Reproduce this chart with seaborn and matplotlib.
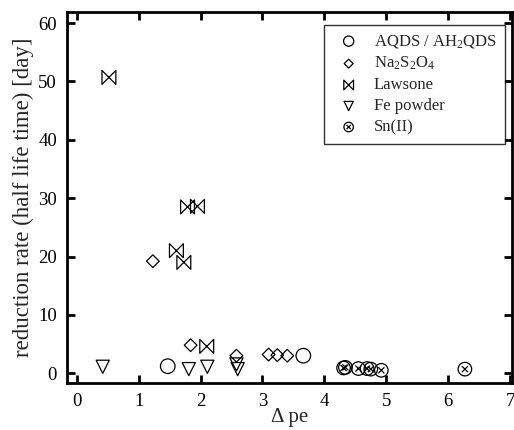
'''scatter of reduction rate vs delta pe'''
import numpy as np
import pandas as pd
import seaborn as sns
import matplotlib.pyplot as plt
from matplotlib.path import Path

# data
aqds_x = [1.47, 3.66]
aqds_y = [1.2, 3.0]
na_x = [1.23, 1.84, 2.58, 3.10, 3.24, 3.40]
na_y = [19.2, 4.8, 3.0, 3.2, 3.1, 3.0]
law_x = [0.52, 1.79, 1.95, 1.61, 1.73, 2.10]
law_y = [50.7, 28.5, 28.6, 21.0, 19.0, 4.6]
fe_x = [0.42, 1.81, 2.11, 2.58, 2.60]
fe_y = [1.1, 0.7, 1.1, 1.5, 0.7]
sn_x = [4.31, 4.34, 4.55, 4.69, 4.75, 4.92, 6.27]
sn_y = [0.9, 1.0, 0.8, 0.8, 0.7, 0.5, 0.7]

labels = ['AQDS / AH$\\mathregular{_2}$QDS',
          'Na$\\mathregular{_2}$S$\\mathregular{_2}$O$\\mathregular{_4}$',
          'Lawsone', 'Fe powder', 'Sn(II)']

sns.set_theme(style='ticks')
plt.rcParams['font.family'] = ['Liberation Serif', 'DejaVu Serif']
plt.rcParams['mathtext.fontset'] = 'custom'
plt.rcParams['mathtext.rm'] = 'Liberation Serif'

#region markers
bowtie = Path([(-1, 1), (-1, -1), (1, 1), (1, -1), (-1, 1)],
              [Path.MOVETO, Path.LINETO, Path.LINETO, Path.LINETO, Path.CLOSEPOLY])
circ = Path.unit_circle()
k = 0.45
cross = Path([(-k, -k), (k, k), (-k, k), (k, -k)],
             [Path.MOVETO, Path.LINETO, Path.MOVETO, Path.LINETO])
otimes = Path.make_compound_path(circ, cross)
#endregion

series = [
    (aqds_x, aqds_y, 'o', 110),
    (na_x, na_y, 'D', 42),
    (law_x, law_y, bowtie, 100),
    (fe_x, fe_y, 'v', 90),
    (sn_x, sn_y, otimes, 95),
]

fig = plt.figure(figsize=(5.14, 4.30), dpi=100)
ax = fig.add_axes([0.130, 0.109, 0.866, 0.863])

for (xs, ys, mk, sz), lab in zip(series, labels):
    df = pd.DataFrame({'x': xs, 'y': ys})
    sns.scatterplot(data=df, x='x', y='y', ax=ax, marker=mk, s=sz,
                    facecolors='none', edgecolor='black', linewidth=0.9,
                    label=lab, legend=False)

ax.set_xlim(-0.16, 7.03)
ax.set_ylim(-1.7, 61.9)
ax.set_xticks(range(0, 8))
ax.set_yticks(range(0, 61, 10))
ax.tick_params(direction='in', length=6, width=2, top=True, right=True,
               labelsize=13.5, colors='black', pad=7)
ax.tick_params(axis='x', labeltop=False, pad=7)
ax.tick_params(axis='y', labelright=False)
for sp in ax.spines.values():
    sp.set_linewidth(2)
    sp.set_color('black')

ax.set_xlabel('\u0394 pe', fontsize=15, labelpad=-1)
ax.set_ylabel('reduction rate (half life time) [day]', fontsize=16.5, labelpad=3)

leg = ax.legend(loc='upper right', bbox_to_anchor=(0.984, 0.966), fontsize=12,
                frameon=True, fancybox=False, edgecolor='black',
                handletextpad=0.5, labelspacing=0.3, borderpad=0.5,
                borderaxespad=0, markerscale=0.7)
leg.get_frame().set_linewidth(1)

fig.savefig('out.png', dpi=100)
